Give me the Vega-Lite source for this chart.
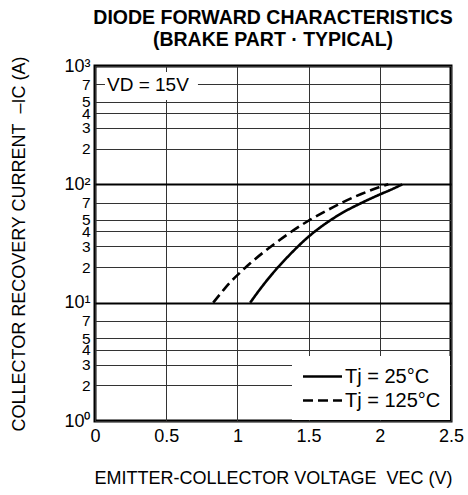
{
  "$schema": "https://vega.github.io/schema/vega-lite/v6.json",
  "width": 356,
  "height": 355,
  "autosize": "none",
  "padding": {"left": 95, "top": 66, "right": 17, "bottom": 74},
  "background": "white",
  "config": {
    "font": "Liberation Sans",
    "view": {"stroke": "black", "strokeWidth": 3}
  },
  "title": {
    "text": ["DIODE FORWARD CHARACTERISTICS", "(BRAKE PART · TYPICAL)"],
    "fontSize": 19.5,
    "fontWeight": "bold",
    "font": "Liberation Sans",
    "color": "black",
    "anchor": "middle",
    "frame": "group",
    "baseline": "bottom",
    "offset": -14,
    "lineHeight": 22
  },
  "layer": [
    {
      "data": {"values": [{"box": "label"}]},
      "mark": {"type": "rect", "fill": "white"},
      "encoding": {
        "x": {"datum": 0.07, "type": "quantitative"},
        "x2": {"datum": 0.723},
        "y": {"datum": 889, "type": "quantitative"},
        "y2": {"datum": 515}
      }
    },
    {
      "data": {
        "values": [
          {"series": "Tj = 25°C", "vec": 1.09, "ic": 10},
          {"series": "Tj = 25°C", "vec": 1.16, "ic": 13.05},
          {"series": "Tj = 25°C", "vec": 1.243, "ic": 17.4},
          {"series": "Tj = 25°C", "vec": 1.37, "ic": 25.6},
          {"series": "Tj = 25°C", "vec": 1.496, "ic": 35.8},
          {"series": "Tj = 25°C", "vec": 1.62, "ic": 46.7},
          {"series": "Tj = 25°C", "vec": 1.742, "ic": 57.9},
          {"series": "Tj = 25°C", "vec": 1.87, "ic": 69.5},
          {"series": "Tj = 25°C", "vec": 1.994, "ic": 81.5},
          {"series": "Tj = 25°C", "vec": 2.08, "ic": 90.3},
          {"series": "Tj = 25°C", "vec": 2.158, "ic": 100},
          {"series": "Tj = 125°C", "vec": 0.83, "ic": 10},
          {"series": "Tj = 125°C", "vec": 0.9, "ic": 12.7},
          {"series": "Tj = 125°C", "vec": 0.948, "ic": 14.8},
          {"series": "Tj = 125°C", "vec": 1.02, "ic": 18.0},
          {"series": "Tj = 125°C", "vec": 1.09, "ic": 21.5},
          {"series": "Tj = 125°C", "vec": 1.243, "ic": 30.3},
          {"series": "Tj = 125°C", "vec": 1.37, "ic": 39.1},
          {"series": "Tj = 125°C", "vec": 1.496, "ic": 49},
          {"series": "Tj = 125°C", "vec": 1.62, "ic": 59.4},
          {"series": "Tj = 125°C", "vec": 1.742, "ic": 70.8},
          {"series": "Tj = 125°C", "vec": 1.87, "ic": 82.8},
          {"series": "Tj = 125°C", "vec": 1.994, "ic": 94.4},
          {"series": "Tj = 125°C", "vec": 2.06, "ic": 100}
        ]
      },
      "mark": {"type": "line", "color": "black", "strokeWidth": 2.6, "interpolate": "monotone"},
      "encoding": {
        "x": {
          "field": "vec",
          "type": "quantitative",
          "scale": {"domain": [0, 2.5], "nice": false, "zero": false},
          "axis": {
            "title": "EMITTER-COLLECTOR VOLTAGE\u00a0 VEC (V)",
            "titleFontSize": 18,
            "titleFontWeight": "normal",
            "titleColor": "black",
            "titlePadding": 24,
            "values": [0, 0.25, 0.5, 0.75, 1, 1.25, 1.5, 1.75, 2, 2.25, 2.5],
            "format": "~g",
            "labelExpr": "(datum.value*2) % 1 == 0 ? datum.label : ''",
            "labelFontSize": 18,
            "labelColor": "black",
            "labelPadding": 6,
            "labelFlush": false,
            "labelOverlap": false,
            "ticks": false,
            "tickSize": 0,
            "domain": false,
            "grid": true,
            "gridColor": "#333333",
            "gridWidth": 1,
            "gridOpacity": 1
          }
        },
        "y": {
          "field": "ic",
          "type": "quantitative",
          "scale": {"type": "log", "domain": [1, 1000], "nice": false},
          "axis": {
            "title": "COLLECTOR RECOVERY CURRENT\u00a0 –IC (A)",
            "titleFontSize": 18,
            "titleFontWeight": "normal",
            "titleColor": "black",
            "titlePadding": 35,
            "values": [1, 2, 3, 4, 5, 7, 10, 20, 30, 40, 50, 70, 100, 200, 300, 400, 500, 700, 1000],
            "labelExpr": "datum.value == 1 ? '10⁰' : datum.value == 10 ? '10¹' : datum.value == 100 ? '10²' : datum.value == 1000 ? '10³' : slice(toString(datum.value), 0, 1)",
            "labelFontSize": {"condition": {"test": "datum.value == 1 || datum.value == 10 || datum.value == 100 || datum.value == 1000", "value": 18}, "value": 15.5},
            "labelColor": "black",
            "labelPadding": 5,
            "labelFlush": false,
            "labelOverlap": false,
            "ticks": false,
            "tickSize": 0,
            "domain": false,
            "grid": true,
            "gridColor": {"condition": {"test": "datum.value == 10 || datum.value == 100", "value": "black"}, "value": "#333333"},
            "gridWidth": {"condition": {"test": "datum.value == 10 || datum.value == 100", "value": 2}, "value": 1},
            "gridOpacity": 1
          }
        },
        "strokeDash": {
          "field": "series",
          "type": "nominal",
          "scale": {"domain": ["Tj = 25°C", "Tj = 125°C"], "range": [[1, 0], [10, 5]]},
          "legend": {
            "title": null,
            "orient": "bottom-right",
            "offset": 1,
            "padding": 9,
            "fillColor": "white",
            "strokeColor": null,
            "labelFontSize": 20,
            "labelFont": "Liberation Sans",
            "labelColor": "black",
            "labelOffset": 11,
            "symbolOffset": 10,
            "rowPadding": 2,
            "symbolType": "M-2,0H2",
            "symbolSize": 380,
            "symbolStrokeWidth": 2.6,
            "symbolStrokeColor": "black"
          }
        }
      }
    },
    {
      "data": {"values": [{"label": "VD = 15V"}]},
      "mark": {"type": "text", "align": "left", "baseline": "middle", "fontSize": 19, "color": "black"},
      "encoding": {
        "x": {"datum": 0.084, "type": "quantitative"},
        "y": {"datum": 690, "type": "quantitative"},
        "text": {"field": "label"}
      }
    }
  ]
}
